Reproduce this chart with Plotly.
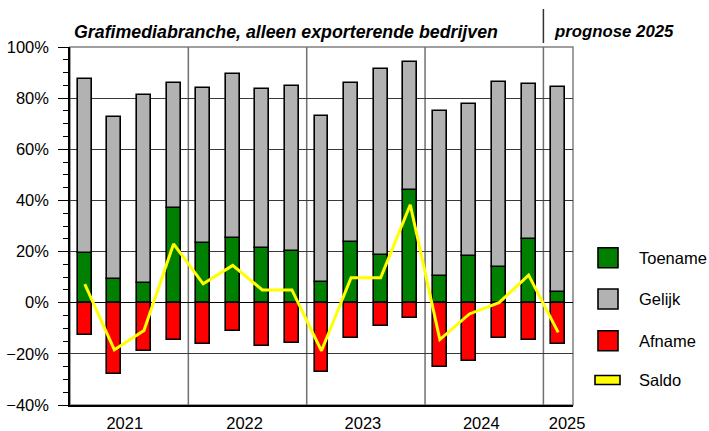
import plotly.graph_objects as go

# Quarterly survey results, share of exporting companies (%)
years = ["2021", "2022", "2023", "2024", "2025"]
quarters = list(range(17))
toename = [19.5, 9.1, 7.8, 37.2, 23.3, 25.2, 21.4, 20.3, 8.2, 23.6, 18.8, 44.2, 10.4, 18.2, 13.8, 25.0, 4.3]
totaal_boven = [87.5, 72.6, 81.4, 85.8, 84.1, 89.3, 83.5, 84.9, 73.0, 86.0, 91.3, 94.1, 75.0, 77.6, 86.3, 85.5, 84.2]
afname = [-12.6, -27.8, -18.9, -14.5, -16.2, -11.1, -16.8, -15.6, -27.0, -13.9, -9.0, -6.1, -25.1, -22.7, -13.8, -14.6, -16.0]
saldo = [7.3, -18.4, -10.9, 23.0, 7.4, 14.6, 5.0, 5.0, -18.8, 9.8, 9.8, 38.3, -14.4, -4.4, 0.0, 10.8, -11.6]
gelijk = [t - g for t, g in zip(totaal_boven, toename)]

FONT = "Liberation Sans, Arial, sans-serif"
W, H = 709, 431
L, R, T, B = 70, 573, 47, 405


def px(x):
    return (x - L) / (R - L)


def py(y):
    return (B - y) / (B - T)


bar_line = dict(color="black", width=1.6)
fig = go.Figure()
fig.add_bar(x=quarters, y=toename, name="Toename", width=0.47,
            marker=dict(color="#008000", line=bar_line))
fig.add_bar(x=quarters, y=gelijk, name="Gelijk", width=0.47,
            marker=dict(color="#b2b2b2", line=bar_line))
fig.add_bar(x=quarters, y=afname, name="Afname", width=0.47,
            marker=dict(color="#ff0000", line=bar_line))
fig.add_scatter(x=quarters, y=saldo, name="Saldo", mode="lines",
                line=dict(color="#ffff00", width=3))

shapes = []
# plot frame (top/right in grey)
shapes.append(dict(type="rect", xref="paper", yref="paper", x0=0, x1=1, y0=0, y1=1,
                   line=dict(color="#808080", width=1.5), layer="below"))
# year separators
for xv in [3.5, 7.5, 11.5, 15.5]:
    shapes.append(dict(type="line", xref="x", yref="paper", x0=xv, x1=xv, y0=0, y1=1,
                       line=dict(color="#707070", width=1.5), layer="below"))
# separator in the heading, before the forecast
shapes.append(dict(type="line", xref="x", yref="paper", x0=15.5, x1=15.5,
                   y0=py(43), y1=py(9), line=dict(color="#333333", width=1.5)))

annotations = [
    dict(text="<b><i>Grafimediabranche, alleen exporterende bedrijven</i></b>",
         xref="paper", yref="paper", x=px(72), y=py(31.5), xanchor="left", yanchor="middle",
         showarrow=False, font=dict(family=FONT, size=17.8, color="black")),
    dict(text="<b><i>prognose 2025</i></b>",
         xref="paper", yref="paper", x=px(552), y=py(31.5), xanchor="left", yanchor="middle",
         showarrow=False, font=dict(family=FONT, size=16.8, color="black")),
]

# legend
legend_items = [("Toename", "#008000", 257.7), ("Gelijk", "#b2b2b2", 299.0), ("Afname", "#ff0000", 340.7)]
for label, col, cy in legend_items:
    shapes.append(dict(type="rect", xref="paper", yref="paper",
                       x0=px(598), x1=px(618), y0=py(cy + 10), y1=py(cy - 10),
                       fillcolor=col, line=dict(color="black", width=1.6)))
    annotations.append(dict(text=label, xref="paper", yref="paper", x=px(637), y=py(cy),
                            xanchor="left", yanchor="middle", showarrow=False,
                            font=dict(family=FONT, size=16.5, color="black")))
shapes.append(dict(type="rect", xref="paper", yref="paper",
                   x0=px(595), x1=px(620), y0=py(384.5), y1=py(375.5),
                   fillcolor="#ffff00", line=dict(color="black", width=1.6)))
annotations.append(dict(text="Saldo", xref="paper", yref="paper", x=px(637), y=py(380),
                        xanchor="left", yanchor="middle", showarrow=False,
                        font=dict(family=FONT, size=16.5, color="black")))

fig.update_layout(
    width=W, height=H,
    margin=dict(l=L, r=W - R, t=T, b=H - B, pad=0, autoexpand=False),
    paper_bgcolor="white", plot_bgcolor="white",
    barmode="relative", bargap=0, showlegend=False,
    font=dict(family=FONT, size=16.5, color="black"),
    shapes=shapes, annotations=annotations,
    xaxis=dict(range=[-0.5, 16.5], tickvals=[1.35, 5.4, 9.4, 13.4, 16.3], ticktext=years,
               ticks="", showgrid=False, zeroline=False, showline=True, automargin=False,
               linecolor="black", linewidth=1.5, tickfont=dict(size=16.5),
               ticklabelstandoff=2),
    yaxis=dict(range=[-40, 100], dtick=20, ticksuffix="%", showgrid=True, automargin=False,
               gridcolor="#3a3a3a", gridwidth=1, zeroline=True, zerolinecolor="black",
               zerolinewidth=1.2, showline=True, linecolor="black", linewidth=1.5,
               ticks="outside", ticklen=10, tickcolor="black", tickwidth=1.2,
               minor=dict(dtick=5, ticks="outside", ticklen=5, tickcolor="black",
                          tickwidth=1.2, showgrid=False),
               tickfont=dict(size=16.5), ticklabelstandoff=6),
)

fig.write_html("out.html")
